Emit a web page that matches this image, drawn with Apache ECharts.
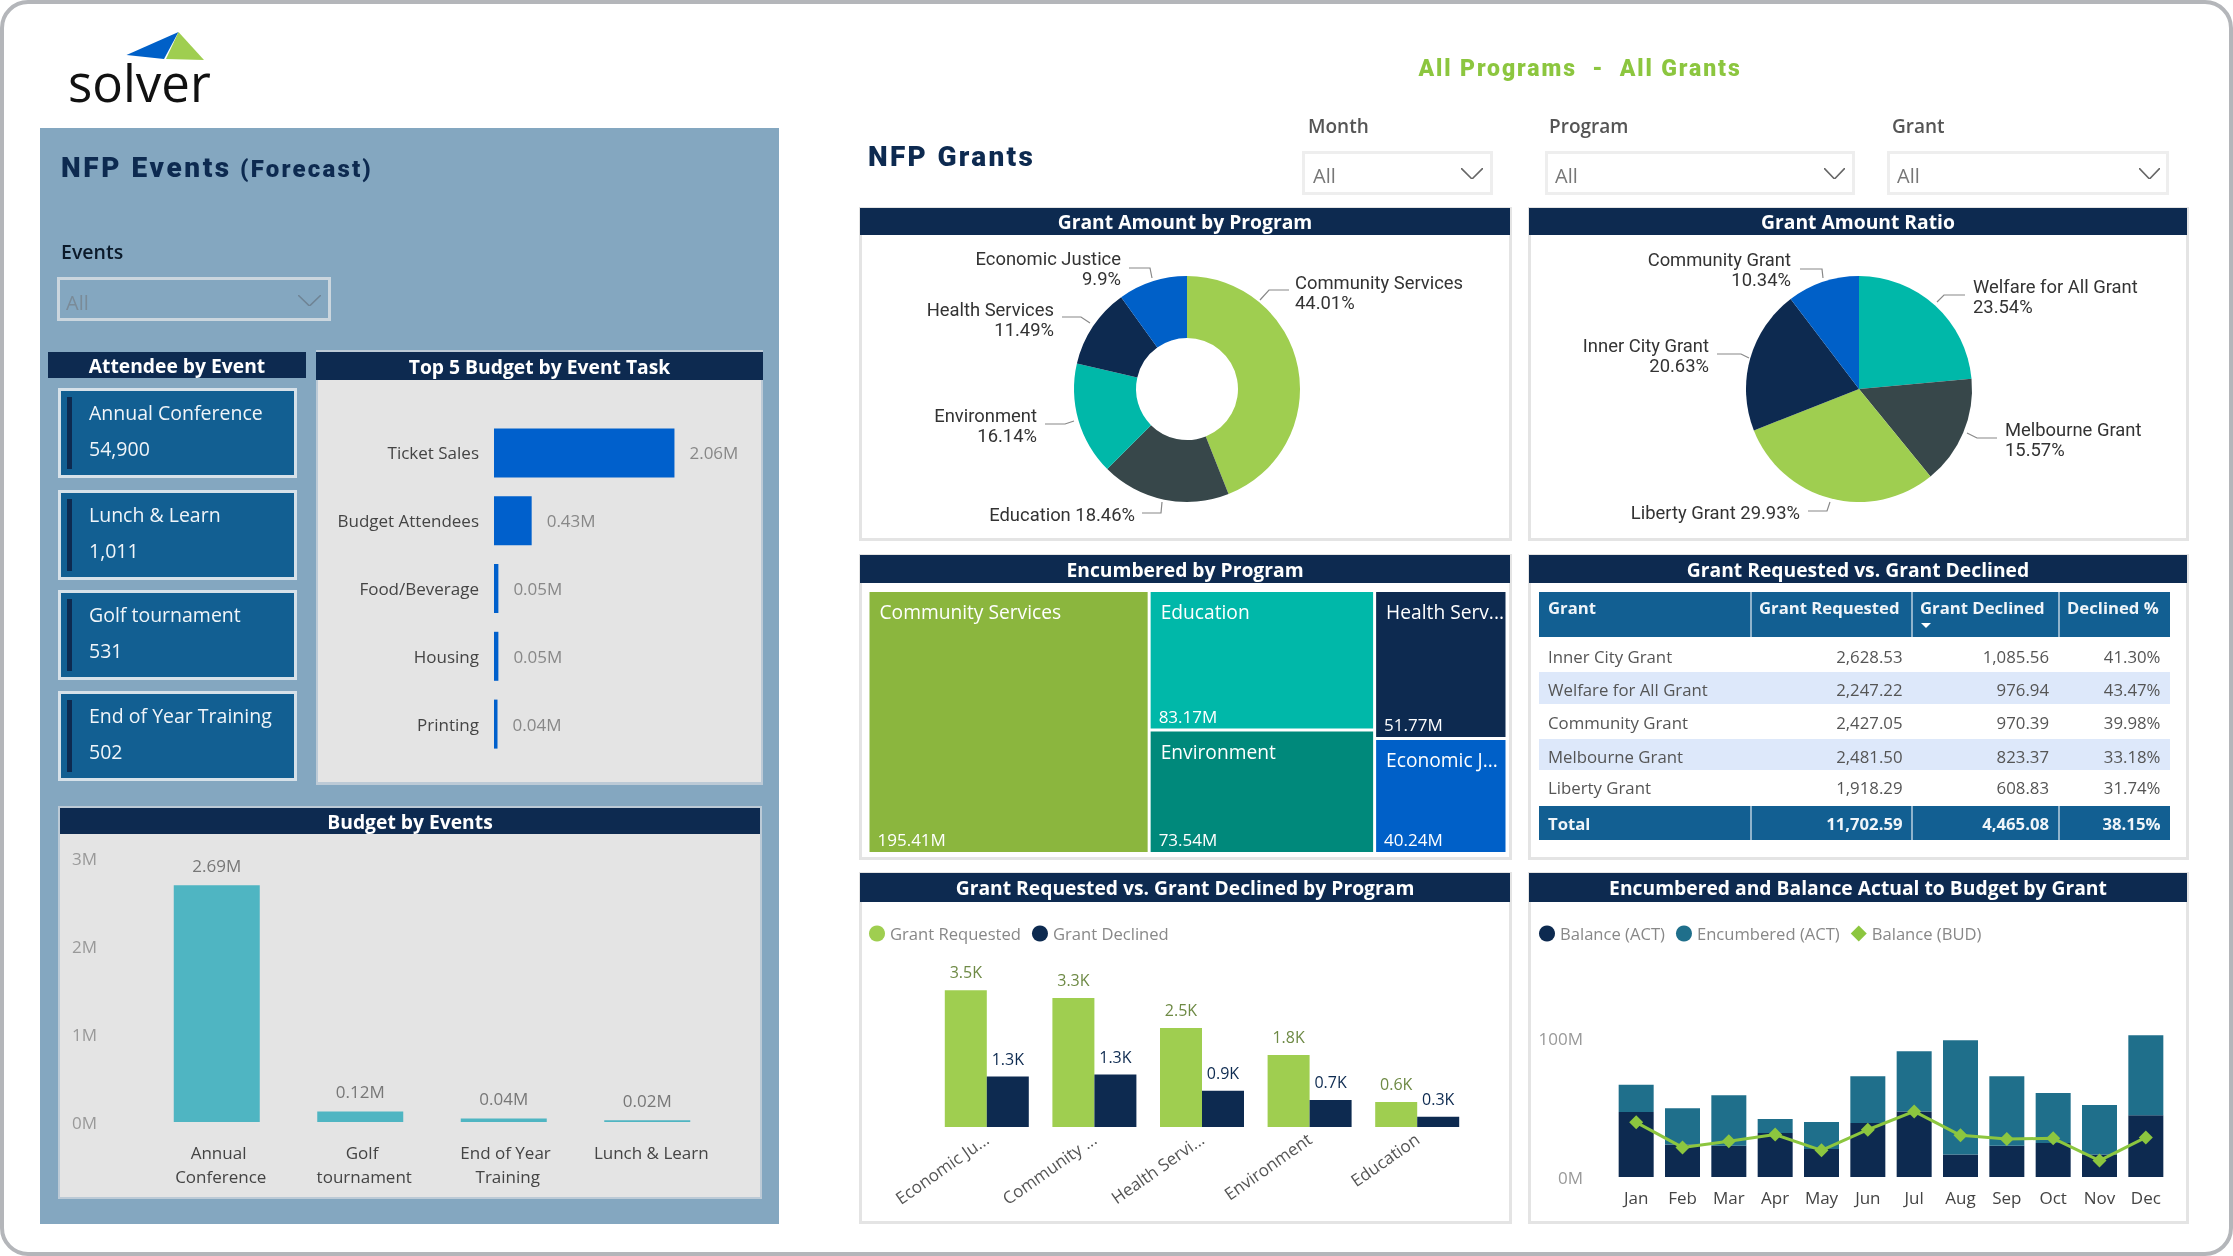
<!DOCTYPE html>
<html>
<head>
<meta charset="utf-8">
<title>NFP Events and Grants</title>
<script src="https://cdn.jsdelivr.net/npm/echarts@6/dist/echarts.min.js"></script>
<style>
  html, body { margin: 0; padding: 0; background: #fff; }
  #page { position: relative; width: 2233px; height: 1256px; overflow: hidden; font-family: "Open Sans", sans-serif; filter: blur(0.6px); }
  #chart { position: absolute; left: 0; top: 0; width: 2233px; height: 1256px; }
  .abs { position: absolute; box-sizing: border-box; }
  .txt { position: absolute; white-space: nowrap; transform: translateY(-50%); line-height: 1; }
</style>
</head>
<body>
<div id="page"><div id="chart"></div></div>
<script>
// attendee cards
const attendeeEvents = ['Annual Conference', 'Lunch & Learn', 'Golf tournament', 'End of Year Training'];
const attendeeCounts = [54900, 1011, 531, 502];

// top 5 budget
const taskNames = ['Ticket Sales', 'Budget Attendees', 'Food/Beverage', 'Housing', 'Printing'];
const taskBudget = [2.06, 0.43, 0.05, 0.05, 0.04];

// budget by events
const budgetEvents = ['Annual Conference', 'Golf tournament', 'End of Year Training', 'Lunch & Learn'];
const budgetValues = [2.69, 0.12, 0.04, 0.02];

// pies
const programNames = ['Community Services', 'Education', 'Environment', 'Health Services', 'Economic Justice'];
const programShare = [44.01, 18.46, 16.14, 11.49, 9.9];
const ratioNames = ['Welfare for All Grant', 'Melbourne Grant', 'Liberty Grant', 'Inner City Grant', 'Community Grant'];
const ratioShare = [23.54, 15.57, 29.93, 20.63, 10.34];

// treemap
const encumberedNames = ['Community Services', 'Education', 'Environment', 'Health Services', 'Economic Justice'];
const encumberedValues = [195.41, 83.17, 73.54, 51.77, 40.24];

// grant table
const tableGrants = ['Inner City Grant', 'Welfare for All Grant', 'Community Grant', 'Melbourne Grant', 'Liberty Grant'];
const tableRequested = [2628.53, 2247.22, 2427.05, 2481.50, 1918.29];
const tableDeclined = [1085.56, 976.94, 970.39, 823.37, 608.83];
const tableDeclinedPct = [41.30, 43.47, 39.98, 33.18, 31.74];
const tableTotals = [11702.59, 4465.08, 38.15];

// requested vs declined by program
const barPrograms = ['Economic Justice', 'Community Services', 'Health Services', 'Environment', 'Education'];
const grantRequested = [3.5, 3.3, 2.53, 1.84, 0.64];
const grantDeclined = [1.29, 1.34, 0.93, 0.69, 0.26];

// encumbered and balance by month
const months = ['Jan', 'Feb', 'Mar', 'Apr', 'May', 'Jun', 'Jul', 'Aug', 'Sep', 'Oct', 'Nov', 'Dec'];
const balanceAct = [46.8, 23.3, 22.5, 31.7, 20.1, 38.9, 47.2, 16.1, 22.5, 24.5, 16.1, 44.4];
const encumberedAct = [19.6, 26.1, 36.3, 10, 19.5, 33.5, 43.2, 82.2, 49.9, 35.9, 35.7, 57.5];
const balanceBud = [39.3, 21.3, 25.7, 30.5, 19.2, 34, 47.2, 30, 27.3, 27.8, 11.8, 28.5];

const NAVY = '#0D2A50', STEEL = '#125F92', GREEN = '#9FCE50', TEAL = '#00B8A9', SLATE = '#37474A', BLUE = '#0060C8';
const page = document.getElementById('page');
const chartDiv = document.getElementById('chart');

function box(x0, y0, x1, y1, css) {
    let d = document.createElement('div');
    d.className = 'abs';
    d.style.cssText = `left:${x0}px;top:${y0}px;width:${x1 - x0}px;height:${y1 - y0}px;` + (css || '');
    page.insertBefore(d, chartDiv);
    return d;
}

function text(x, y, str, css, right) {
    let d = document.createElement('div');
    d.className = 'txt';
    d.textContent = str;
    d.style.cssText = (right ? `right:${2233 - x}px;` : `left:${x}px;`) + `top:${y}px;` + (css || '');
    page.insertBefore(d, chartDiv);
    return d;
}

function chevron(x0, x1, y0, y1, color) {
    let d = box(x0, y0, x1, y1);
    d.innerHTML = `<svg width="${x1 - x0}" height="${y1 - y0}" style="display:block"><polyline fill="none" stroke="${color}" stroke-width="1.6" points="0,0 ${(x1 - x0) / 2},${y1 - y0} ${x1 - x0},0"/></svg>`;
}

function header(x0, y0, x1, y1, str) {
    box(x0, y0, x1, y1, `background:${NAVY};`);
    let t = text((x0 + x1) / 2, (y0 + y1) / 2 + 0.5, str, 'color:#fff;font-weight:700;font-size:19.3px;');
    t.style.transform = 'translate(-50%,-50%)';
}

function slicer(x0, x1, labelX, name, allX, chevX0, chevX1) {
    text(labelX, 126, name, 'color:#555;font-weight:600;font-size:19px;');
    box(x0, 151, x1, 195, 'border:3px solid #EEEEEE;');
    text(allX, 176, 'All', 'color:#777;font-size:20px;');
    chevron(chevX0, chevX1, 168, 179, '#666');
}

// outer frame and logo
box(0, 0, 2233, 1256, 'border:4px solid #B4B6BA;border-radius:28px;');
let logo = box(120, 28, 210, 64);
logo.innerHTML = '<svg width="90" height="36" style="display:block"><polygon points="6.5,27 58.5,4 44,31" fill="#0060C8"/><polygon points="58.5,4 84,32 46,31" fill="#9FCE50"/></svg>';
text(68, 82, 'solver', 'color:#111;font-size:51px;');

// left blue panel
box(40, 128, 779, 1224, 'background:#84A7C0;');
text(61, 168, 'NFP Events', `color:${NAVY};font-family:Roboto;font-weight:900;font-size:28px;letter-spacing:2.6px;`);
text(240, 169, '(Forecast)', `color:${NAVY};font-family:Roboto;font-weight:900;font-size:24px;letter-spacing:2.2px;`);
text(61, 252, 'Events', 'color:#0b1a2a;font-weight:600;font-size:19.5px;');
box(57, 277, 331, 321, 'border:3px solid #CBD6DE;');
text(66, 303, 'All', 'color:#7a8b98;font-size:20px;');
chevron(298, 321, 295, 306, '#6f8495');

header(48, 352, 306, 378, 'Attendee by Event');
box(316, 350, 763, 785, 'background:#E4E4E4;border:2px solid #BCCAD6;border-bottom-width:3px;');
header(316, 352, 763, 380, 'Top 5 Budget by Event Task');

const cardTops = [388, 490, 590, 691];
attendeeEvents.forEach((name, i) => {
    let y = cardTops[i];
    box(58, y, 297, y + 90, `background:${STEEL};border:3px solid #D6E1E9;`);
    box(67, y + 9, 72, y + 81, `background:${NAVY};`);
    text(89, y + 25, name, 'color:#F0F5F9;font-size:19.5px;');
    text(89, y + 61, attendeeCounts[i].toLocaleString('en-US'), 'color:#F0F5F9;font-size:19.5px;');
});

box(58, 806, 762, 1199, 'background:#E4E4E4;border:2px solid #BCCAD6;');
header(60, 808, 760, 834, 'Budget by Events');

// right side
let allTitle = text(1580, 68, 'All Programs  -  All Grants', 'color:#8CC63F;font-family:Roboto;font-weight:900;font-size:23px;letter-spacing:1.9px;white-space:pre;');
allTitle.style.transform = 'translate(-50%,-50%)';
text(868, 157, 'NFP Grants', `color:${NAVY};font-family:Roboto;font-weight:900;font-size:28px;letter-spacing:2.3px;`);
slicer(1302, 1493, 1308, 'Month', 1313, 1461, 1483);
slicer(1545, 1855, 1549, 'Program', 1555, 1824, 1845);
slicer(1887, 2169, 1892, 'Grant', 1897, 2139, 2160);

const panels = [
    [860, 208, 1510, 540, 235, 'Grant Amount by Program'],
    [1529, 208, 2187, 540, 235, 'Grant Amount Ratio'],
    [860, 555, 1510, 859, 583, 'Encumbered by Program'],
    [1529, 555, 2187, 859, 583, 'Grant Requested vs. Grant Declined'],
    [860, 873, 1510, 1223, 902, 'Grant Requested vs. Grant Declined by Program'],
    [1529, 873, 2187, 1223, 902, 'Encumbered and Balance Actual to Budget by Grant']
];
panels.forEach(p => {
    box(p[0] - 1, p[1] - 1, p[2] + 2, p[3] + 1, 'border:3px solid #E4E4E4;background:#fff;');
    header(p[0], p[1], p[2], p[4], p[5]);
});

// grant table
const fmt2 = v => v.toLocaleString('en-US', { minimumFractionDigits: 2, maximumFractionDigits: 2 });
const colRight = [1902.5, 2049, 2160.5];
const colDividers = [1750, 1911, 2058];
const rowY = [657, 690, 723, 757, 788];
box(1539, 592, 2170, 637, `background:${STEEL};`);
box(1539, 806, 2170, 840, `background:${STEEL};`);
box(1539, 672, 2170, 704, 'background:#DDE8FA;');
box(1539, 739, 2170, 770, 'background:#DDE8FA;');
colDividers.forEach(x => {
    box(x, 592, x + 1.5, 637, 'background:#8FB3CC;');
    box(x, 806, x + 1.5, 840, 'background:#8FB3CC;');
});
const headCss = 'color:#F0F5F9;font-weight:700;font-size:16.7px;';
text(1548, 608, 'Grant', headCss);
text(1759, 608, 'Grant Requested', headCss);
text(1920, 608, 'Grant Declined', headCss);
text(2067, 608, 'Declined %', headCss);
let caret = box(1921, 623, 1931, 628);
caret.innerHTML = '<svg width="10" height="5" style="display:block"><polygon points="0,0 10,0 5,5" fill="#fff"/></svg>';
const rowCss = 'color:#555;font-size:16.8px;';
tableGrants.forEach((g, i) => {
    text(1548, rowY[i], g, rowCss);
    text(colRight[0], rowY[i], fmt2(tableRequested[i]), rowCss, true);
    text(colRight[1], rowY[i], fmt2(tableDeclined[i]), rowCss, true);
    text(colRight[2], rowY[i], fmt2(tableDeclinedPct[i]) + '%', rowCss, true);
});
const totalCss = 'color:#F0F5F9;font-weight:700;font-size:16.7px;';
text(1548, 824, 'Total', totalCss);
text(colRight[0], 824, fmt2(tableTotals[0]), totalCss, true);
text(colRight[1], 824, fmt2(tableTotals[1]), totalCss, true);
text(colRight[2], 824, fmt2(tableTotals[2]) + '%', totalCss, true);

// pie label placement, in page pixels, same order as the pie data
const programLabelSpots = [
    { x: 1295, y: 292, align: 'left', line: [[1260, 300], [1269, 290], [1289, 290]] },
    { x: 1135, y: 514, align: 'right', line: [[1162, 502], [1161, 513], [1142, 513]] },
    { x: 1037, y: 425, align: 'right', line: [[1074, 421], [1065, 424], [1045, 424]] },
    { x: 1054, y: 319, align: 'right', line: [[1090, 323], [1081, 317], [1062, 317]] },
    { x: 1121, y: 268, align: 'right', line: [[1152, 278], [1150, 268], [1129, 268]] }
];
const ratioLabelSpots = [
    { x: 1973, y: 296, align: 'left', line: [[1937, 302], [1944, 295], [1965, 295]] },
    { x: 2005, y: 439, align: 'left', line: [[1967, 433], [1977, 438], [1997, 438]] },
    { x: 1800, y: 512, align: 'right', line: [[1830, 502], [1827, 511], [1808, 511]] },
    { x: 1709, y: 355, align: 'right', line: [[1749, 358], [1741, 354], [1717, 354]] },
    { x: 1791, y: 269, align: 'right', line: [[1823, 278], [1822, 269], [1800, 269]] }
];
const oneLineLabels = ['Education', 'Liberty Grant'];

function pieSeries(names, shares, colors, spots, center, radius) {
    return {
        type: 'pie',
        center: center,
        radius: radius,
        startAngle: 90,
        clockwise: true,
        silent: true,
        data: names.map((n, i) => ({ name: n, value: shares[i], itemStyle: { color: colors[i] } })),
        label: {
            show: true,
            color: '#333',
            fontFamily: 'Roboto',
            fontSize: 18.4,
            lineHeight: 20,
            formatter: p => p.name + (oneLineLabels.includes(p.name) ? ' ' : '\n') + p.value + '%'
        },
        labelLine: { show: true, lineStyle: { color: '#888', width: 1.2 } },
        labelLayout: p => {
            let s = spots[p.dataIndex];
            return { x: s.x, y: s.y, align: s.align, verticalAlign: 'middle', labelLinePoints: s.line };
        }
    };
}

const treemapColors = ['#8BB63E', '#00B8A9', '#00897B', NAVY, BLUE];
const treemapBase = {
    type: 'treemap',
    left: 869.5,
    top: 592,
    width: 636,
    height: 260,
    roam: false,
    nodeClick: false,
    silent: true,
    breadcrumb: { show: false }
};

const axisFont = { fontFamily: 'Open Sans', fontSize: 17 };

const option = {
    animation: false,
    grid: [
        { left: 494, top: 419, width: 219, height: 339 },
        { left: 145, top: 858, width: 574, height: 264 },
        { left: 933, top: 970.6, width: 538, height: 156.4 },
        { left: 1613, top: 968.5, width: 556, height: 208.5 }
    ],
    xAxis: [
        { gridIndex: 0, type: 'value', min: 0, max: 2.5, show: false },
        {
            gridIndex: 1, type: 'category', data: budgetEvents,
            axisLine: { show: false }, axisTick: { show: false },
            axisLabel: { ...axisFont, color: '#444', margin: 18, width: 125, overflow: 'break', lineHeight: 24, interval: 0, padding: [0, 0, 0, 8] }
        },
        {
            gridIndex: 2, type: 'category', data: barPrograms,
            axisLine: { show: false }, axisTick: { show: false },
            axisLabel: { ...axisFont, color: '#555', rotate: 35, margin: 10, width: 114, overflow: 'truncate', ellipsis: '...', interval: 0 }
        },
        {
            gridIndex: 3, type: 'category', data: months,
            axisLine: { show: false }, axisTick: { show: false },
            axisLabel: { ...axisFont, color: '#444', margin: 12, interval: 0 }
        }
    ],
    yAxis: [
        {
            gridIndex: 0, type: 'category', data: taskNames, inverse: true,
            axisLine: { show: false }, axisTick: { show: false },
            axisLabel: { ...axisFont, color: '#444', margin: 15 }
        },
        {
            gridIndex: 1, type: 'value', min: 0, max: 3, interval: 1,
            axisLine: { show: false }, splitLine: { show: false },
            axisLabel: { ...axisFont, color: '#999', margin: 48, formatter: '{value}M' }
        },
        { gridIndex: 2, type: 'value', min: 0, max: 4, show: false },
        {
            gridIndex: 3, type: 'value', min: 0, max: 150, interval: 100,
            axisLine: { show: false }, splitLine: { show: false },
            axisLabel: { ...axisFont, color: '#999', margin: 30, showMaxLabel: false, formatter: v => v > 100 ? '' : v + 'M' }
        }
    ],
    legend: [
        {
            left: 869, top: 925, padding: 0, icon: 'circle', itemWidth: 16, itemHeight: 16, itemGap: 11,
            textStyle: { ...axisFont, fontSize: 16.6, color: '#888' },
            data: ['Grant Requested', 'Grant Declined'], selectedMode: false
        },
        {
            left: 1539, top: 925, padding: 0, itemWidth: 16, itemHeight: 16, itemGap: 11,
            textStyle: { ...axisFont, fontSize: 16.6, color: '#888' },
            data: [
                { name: 'Balance (ACT)', icon: 'circle' },
                { name: 'Encumbered (ACT)', icon: 'circle' },
                { name: 'Balance (BUD)', icon: 'diamond' }
            ], selectedMode: false
        }
    ],
    series: [
        {
            type: 'bar', name: 'Top 5', xAxisIndex: 0, yAxisIndex: 0, data: taskBudget, barWidth: 49, silent: true,
            itemStyle: { color: '#0060CC' },
            label: { show: true, position: 'right', distance: 15, ...axisFont, color: '#888', formatter: p => p.value.toFixed(2) + 'M' }
        },
        {
            type: 'bar', name: 'Budget', xAxisIndex: 1, yAxisIndex: 1, data: budgetValues, barWidth: 86, silent: true,
            itemStyle: { color: '#4FB5C2' },
            label: { show: true, position: 'top', distance: 11, ...axisFont, color: '#777', formatter: p => p.value.toFixed(2) + 'M' }
        },
        pieSeries(programNames, programShare, [GREEN, SLATE, TEAL, NAVY, BLUE], programLabelSpots, [1187, 389], [51, 113]),
        pieSeries(ratioNames, ratioShare, [TEAL, SLATE, GREEN, NAVY, BLUE], ratioLabelSpots, [1859, 389], [0, 113]),
        {
            ...treemapBase,
            levels: [{ itemStyle: { gapWidth: 3, borderWidth: 0 } }],
            label: { show: true, position: 'insideTopLeft', distance: 5, ...axisFont, fontSize: 19.2, color: '#fff', ellipsis: '...', formatter: '{b}' },
            data: encumberedNames.map((n, i) => ({ name: n, value: encumberedValues[i], itemStyle: { color: treemapColors[i] } }))
        },
        {
            ...treemapBase,
            levels: [{ itemStyle: { gapWidth: 3, borderWidth: 0, borderColor: 'transparent', color: 'transparent' } }],
            label: { show: true, position: 'insideBottomLeft', distance: 4, padding: [0, 0, 0, 4], ...axisFont, fontSize: 17, color: '#fff', formatter: p => p.value.toFixed(2) + 'M' },
            data: encumberedNames.map((n, i) => ({ name: n, value: encumberedValues[i], itemStyle: { color: 'transparent' } }))
        },
        {
            type: 'bar', name: 'Grant Requested', xAxisIndex: 2, yAxisIndex: 2, data: grantRequested, silent: true,
            barWidth: 42, barGap: 0, itemStyle: { color: GREEN },
            label: { show: true, position: 'top', distance: 10, ...axisFont, fontSize: 16, color: '#6E8A45', formatter: p => p.value.toFixed(1) + 'K' }
        },
        {
            type: 'bar', name: 'Grant Declined', xAxisIndex: 2, yAxisIndex: 2, data: grantDeclined, silent: true,
            barWidth: 42, barGap: 0, itemStyle: { color: NAVY },
            label: { show: true, position: 'top', distance: 10, ...axisFont, fontSize: 16, color: NAVY, formatter: p => p.value.toFixed(1) + 'K' }
        },
        {
            type: 'bar', name: 'Balance (ACT)', xAxisIndex: 3, yAxisIndex: 3, stack: 'actual', data: balanceAct, barWidth: 35, silent: true,
            itemStyle: { color: NAVY }
        },
        {
            type: 'bar', name: 'Encumbered (ACT)', xAxisIndex: 3, yAxisIndex: 3, stack: 'actual', data: encumberedAct, barWidth: 35, silent: true,
            itemStyle: { color: '#1F6F8B' }
        },
        {
            type: 'line', name: 'Balance (BUD)', xAxisIndex: 3, yAxisIndex: 3, data: balanceBud, silent: true,
            symbol: 'diamond', symbolSize: 14, itemStyle: { color: '#8CC63F' }, lineStyle: { color: '#8CC63F', width: 3 }
        }
    ]
};

const chart = echarts.init(chartDiv, null, { renderer: 'svg' });
chart.setOption(option);
</script>
</body>
</html>
